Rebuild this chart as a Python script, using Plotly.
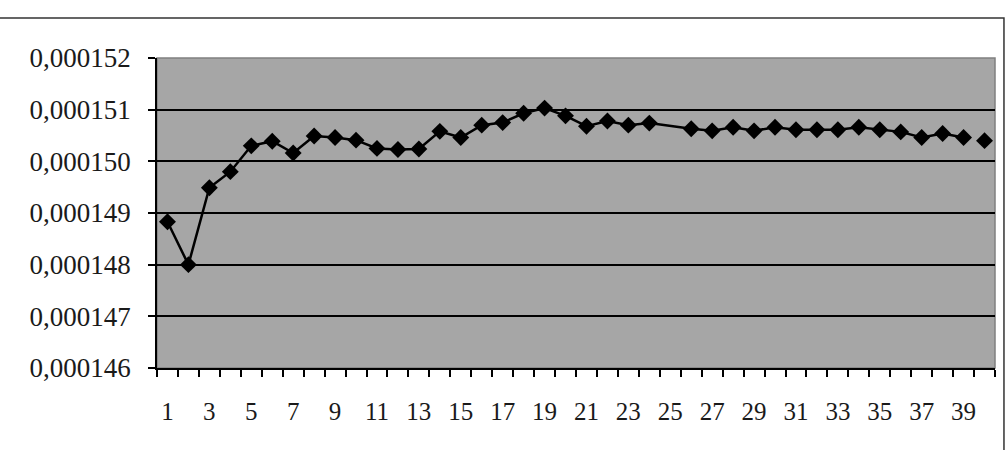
import plotly.graph_objects as go

# Data
categories = list(range(1, 40))
values = [0.00014883, 0.00014800, 0.00014949, 0.00014980, 0.00015030, 0.00015039,
          0.00015016, 0.00015049, 0.00015046, 0.00015041, 0.00015025, 0.00015023,
          0.00015024, 0.00015058, 0.00015046, 0.00015070, 0.00015075, 0.00015093,
          0.00015103, 0.00015088, 0.00015068, 0.00015078, 0.00015070, 0.00015074,
          None, 0.00015063, 0.00015059, 0.00015066, 0.00015059, 0.00015066,
          0.00015061, 0.00015061, 0.00015061, 0.00015066, 0.00015061, 0.00015057,
          0.00015046, 0.00015054, 0.00015046]
last_category = [40]
last_value = [0.00015040]

x_tick_vals = list(range(1, 40, 2))
x_tick_text = [str(v) for v in x_tick_vals]
y_ticks = [0.000146, 0.000147, 0.000148, 0.000149, 0.000150, 0.000151, 0.000152]

fig = go.Figure()
fig.add_trace(go.Scatter(
    x=categories, y=values, mode="lines+markers", connectgaps=True,
    line=dict(color="black", width=2.5),
    marker=dict(symbol="diamond", size=13, color="black"),
    showlegend=False,
))
fig.add_trace(go.Scatter(
    x=last_category, y=last_value, mode="markers",
    marker=dict(symbol="diamond", size=13, color="black"),
    showlegend=False,
))

font_family = "Liberation Serif"
fig.update_layout(
    width=1008, height=450,
    margin=dict(l=157, r=13, t=58, b=82),
    paper_bgcolor="white",
    plot_bgcolor="#a6a6a6",
    separators=", ",
    font=dict(family=font_family, size=25, color="#1a1a1a"),
    xaxis=dict(
        range=[0.5, 40.5], tickmode="array", tickvals=x_tick_vals, ticktext=x_tick_text,
        ticks="", showgrid=False, zeroline=False,
        showline=True, linecolor="black", linewidth=1.5,
        tickfont=dict(family=font_family, size=25, color="#1a1a1a"),
        ticklabelstandoff=20,
        minor=dict(tick0=0.5, dtick=1, ticks="outside", ticklen=7, tickcolor="black",
                   tickwidth=1.5, showgrid=False),
    ),
    yaxis=dict(
        range=[0.000146, 0.000152], tickmode="array", tickvals=y_ticks,
        tickformat=".6f", ticks="outside", ticklen=7, tickcolor="black", tickwidth=1.5,
        showgrid=True, gridcolor="black", gridwidth=1.5, zeroline=False,
        showline=True, linecolor="black", linewidth=1.5,
        tickfont=dict(family=font_family, size=27, color="#1a1a1a"),
        ticklabelstandoff=12,
    ),
    shapes=[
        dict(type="rect", xref="paper", yref="paper", x0=0, x1=1, y0=0, y1=1,
             line=dict(color="#808080", width=1.5), fillcolor="rgba(0,0,0,0)", layer="below"),
        dict(type="rect", xref="paper", yref="paper", x0=-0.19, x1=1.0107, y0=-0.28, y1=1.129,
             line=dict(color="#333333", width=1.5), fillcolor="rgba(0,0,0,0)"),
    ],
)

fig.write_html("out.html")
